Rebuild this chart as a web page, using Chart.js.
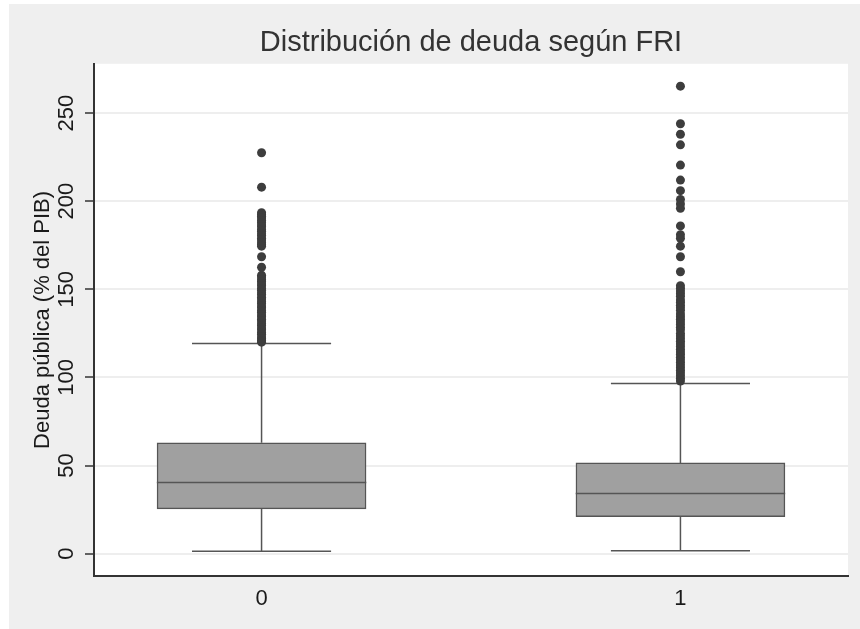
<!DOCTYPE html>
<html>
<head>
<meta charset="utf-8">
<script src="https://cdn.jsdelivr.net/npm/chart.js@4"></script>
<style>
  body { margin: 0; background: #ffffff; }
  #wrap { position: absolute; left: 9px; top: 4px; width: 851px; height: 625px; background: #efefef; }
</style>
</head>
<body>
<div id="wrap"><canvas id="myChart" width="851" height="625"></canvas></div>
<script>
// one box per FRI group
var categories = ["0", "1"];
var groupX = [0, 1];
var q1 = [25.4, 21.0];
var median = [40.3, 34.1];
var q3 = [62.9, 51.5];
var lowerAdj = [1.4, 1.7];
var upperAdj = [119.3, 96.6];
var yTicks = [0, 50, 100, 150, 200, 250];

var outliers0 = [227.5, 208, 193.5, 192.5, 191.5, 190.5, 189, 188, 186.5, 185.5, 184, 183,
  181.5, 180.5, 179, 178, 176.5, 175.5, 174.5, 168.5, 162.5, 158, 157, 155.5, 154.5, 153,
  152, 150.5, 149.5, 148, 147, 145.5, 144.5, 143, 142, 140.5, 139.5, 138, 137, 135.5, 134.5,
  133, 132, 130.5, 129.5, 128, 127, 125.5, 124.5, 123, 122, 121, 120];
var outliers1 = [265.3, 244, 238, 232, 220.5, 212, 206, 201, 198.5, 196, 186, 181, 179, 174.5,
  168.5, 160, 152, 150.5, 149, 147.5, 146, 144, 142.5, 141, 139.5, 138, 136, 134.5, 133, 131.5,
  130, 128.5, 127, 125, 123.5, 122, 120.5, 119, 117.5, 116, 114.5, 113, 111.5, 110, 108.5, 107,
  105.5, 104, 102.5, 101, 99.5, 98];

var boxHalf = 0.25;
var capHalf = 0.166;

var boxData = groupX.map(function (x, i) { return { x: x, y: [q1[i], q3[i]] }; });

var whiskerData = [];
var medianData = [];
groupX.forEach(function (x, i) {
  whiskerData.push({ x: x, y: q3[i] }, { x: x, y: upperAdj[i] }, { x: x, y: null });
  whiskerData.push({ x: x, y: q1[i] }, { x: x, y: lowerAdj[i] }, { x: x, y: null });
  whiskerData.push({ x: x - capHalf, y: upperAdj[i] }, { x: x + capHalf, y: upperAdj[i] }, { x: x, y: null });
  whiskerData.push({ x: x - capHalf, y: lowerAdj[i] }, { x: x + capHalf, y: lowerAdj[i] }, { x: x, y: null });
  medianData.push({ x: x - boxHalf, y: median[i] }, { x: x + boxHalf, y: median[i] }, { x: x, y: null });
});

var outlierData = outliers0.map(function (v) { return { x: groupX[0], y: v }; })
  .concat(outliers1.map(function (v) { return { x: groupX[1], y: v }; }));

var plotBackground = {
  id: 'plotBackground',
  beforeDraw: function (chart) {
    var a = chart.chartArea;
    chart.ctx.save();
    chart.ctx.fillStyle = '#ffffff';
    chart.ctx.fillRect(a.left, a.top, a.right - a.left, a.bottom - a.top);
    chart.ctx.restore();
  }
};

Chart.defaults.font.family = "'Liberation Sans', Arial, sans-serif";

new Chart("myChart", {
  type: "scatter",
  data: {
    datasets: [{
      type: "bar",
      data: boxData,
      backgroundColor: "#a0a0a0",
      borderColor: "#555555",
      borderWidth: 1.5,
      borderSkipped: false,
      barThickness: 209,
      order: 3
    },
    {
      type: "line",
      data: whiskerData,
      borderColor: "#555555",
      borderWidth: 1.5,
      pointRadius: 0,
      spanGaps: false,
      order: 2
    },
    {
      type: "line",
      data: medianData,
      borderColor: "#555555",
      borderWidth: 1.5,
      pointRadius: 0,
      spanGaps: false,
      order: 2
    },
    {
      type: "scatter",
      data: outlierData,
      backgroundColor: "#3d3d3d",
      borderWidth: 0,
      pointRadius: 4.5,
      order: 1
    }]
  },
  options: {
    responsive: false,
    animation: false,
    layout: { padding: { top: 0, right: 12, bottom: 0, left: 0 } },
    plugins: {
      legend: { display: false },
      tooltip: { enabled: false },
      title: {
        display: true,
        text: "Distribución de deuda según FRI",
        color: "#333333",
        fullSize: false,
        font: { size: 29, weight: "normal" },
        padding: { top: 22, bottom: 3 }
      }
    },
    scales: {
      x: {
        type: "linear",
        min: -0.4,
        max: 1.4,
        offset: false,
        afterFit: function (scale) { scale.height = 53; },
        afterBuildTicks: function (scale) {
          scale.ticks = groupX.map(function (v) { return { value: v }; });
        },
        grid: { display: false, drawTicks: false },
        border: { display: true, color: "#333333", width: 2 },
        ticks: {
          color: "#1a1a1a",
          font: { size: 22 },
          padding: 10,
          callback: function (value) { return categories[groupX.indexOf(value)]; }
        }
      },
      y: {
        min: -12.7,
        max: 278,
        afterFit: function (scale) { scale.width = 85; },
        afterBuildTicks: function (scale) {
          scale.ticks = yTicks.map(function (v) { return { value: v }; });
        },
        grid: { color: "#eeeeee", lineWidth: 2, tickColor: "#333333", tickWidth: 1.5, tickLength: 9 },
        border: { display: true, color: "#333333", width: 2 },
        title: {
          display: true,
          text: "Deuda pública (% del PIB)",
          color: "#1a1a1a",
          font: { size: 22 },
          padding: { top: 21, bottom: 0 }
        },
        ticks: {
          color: "#1a1a1a",
          font: { size: 22 },
          minRotation: 90,
          maxRotation: 90,
          crossAlign: "center",
          padding: 0
        }
      }
    }
  },
  plugins: [plotBackground]
});
</script>
</body>
</html>
